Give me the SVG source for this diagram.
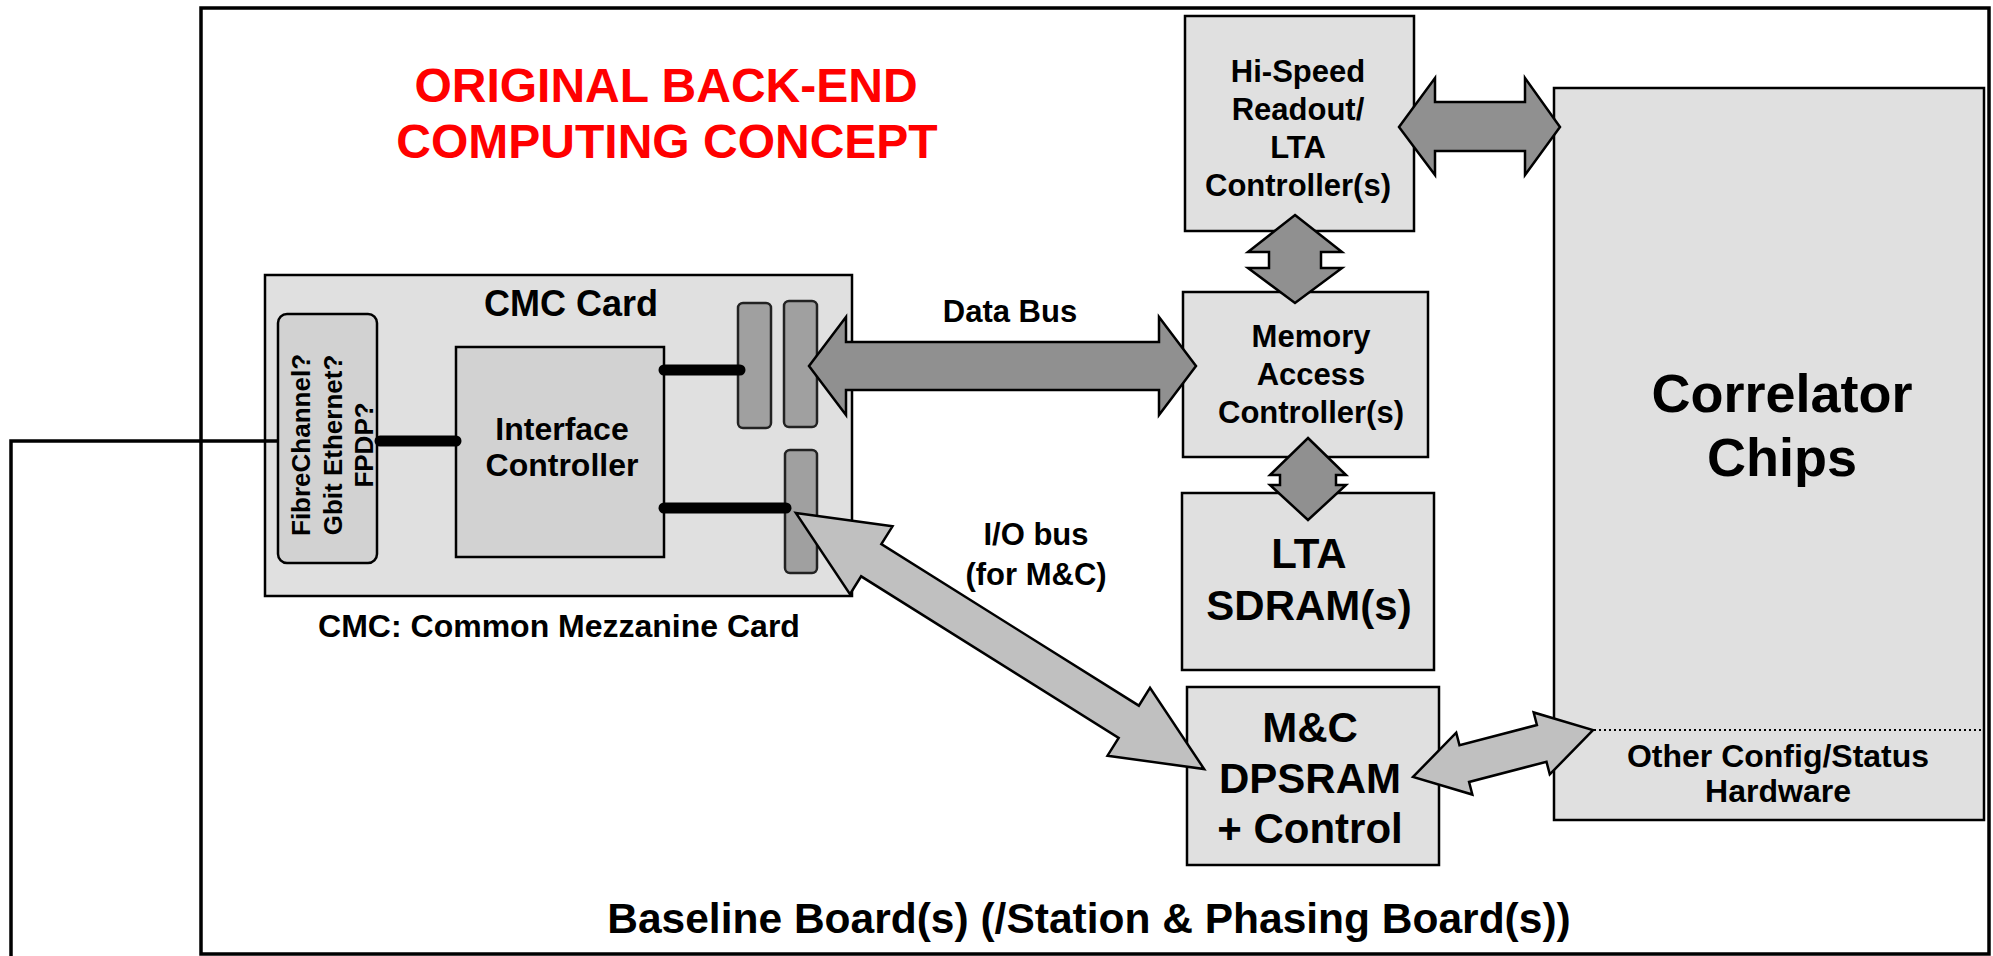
<svg xmlns="http://www.w3.org/2000/svg" width="1993" height="956" viewBox="0 0 1993 956">
<style>
.box{fill:#e0e0e0;stroke:#000;stroke-width:2.5}
.inner{fill:#d2d2d2;stroke:#000;stroke-width:2.5}
.slot{fill:#a0a0a0;stroke:#222;stroke-width:2.5}
.t{font-family:"Liberation Sans",Arial,sans-serif;font-weight:bold;fill:#000;text-anchor:middle}
.dark{fill:#909090;stroke:#000;stroke-width:2.5}
.light{fill:#c0c0c0;stroke:#000;stroke-width:2.5}
.wire{stroke:#000;stroke-width:11;stroke-linecap:round;fill:none}
.ext{stroke:#000;stroke-width:3.5;fill:none}
</style>
<rect width="1993" height="956" fill="#fff"/>

<g id="board">
  <rect x="201" y="8" width="1788" height="946" fill="none" stroke="#000" stroke-width="3.5"/>
  <text class="t" x="1089" y="933" font-size="42.5">Baseline Board(s) (/Station &amp; Phasing Board(s))</text>
</g>

<g id="title">
  <text class="t" x="666" y="102" font-size="48" fill="#ff0000" style="fill:#ff0000">ORIGINAL BACK-END</text>
  <text class="t" x="667" y="158" font-size="48" style="fill:#ff0000">COMPUTING CONCEPT</text>
</g>

<g id="cmc-card">
  <rect class="box" x="265" y="275" width="587" height="321"/>
  <text class="t" x="571" y="316" font-size="36">CMC Card</text>
  <text class="t" x="559" y="637" font-size="32">CMC: Common Mezzanine Card</text>
</g>

<g id="network-if">
  <rect class="inner" x="278" y="314" width="99" height="249" rx="9"/>
  <g class="t" font-size="26">
    <text transform="translate(310,445) rotate(-90)">FibreChannel?</text>
    <text transform="translate(342,445) rotate(-90)">Gbit Ethernet?</text>
    <text transform="translate(373,445) rotate(-90)">FPDP?</text>
  </g>
</g>

<g id="interface-controller">
  <rect class="inner" x="456" y="347" width="208" height="210"/>
  <text class="t" x="562" y="440" font-size="32">Interface</text>
  <text class="t" x="562" y="476" font-size="32">Controller</text>
</g>

<g id="slots">
  <rect class="slot" x="738" y="303" width="33" height="125" rx="5"/>
  <rect class="slot" x="784" y="301" width="33" height="126" rx="5"/>
  <rect class="slot" x="785" y="450" width="32" height="123" rx="5"/>
</g>

<g id="hispeed">
  <rect class="box" x="1185" y="16" width="229" height="215"/>
  <g class="t" font-size="31">
    <text x="1298" y="82">Hi-Speed</text>
    <text x="1298" y="120">Readout/</text>
    <text x="1298" y="158">LTA</text>
    <text x="1298" y="196">Controller(s)</text>
  </g>
</g>

<g id="memory">
  <rect class="box" x="1183" y="292" width="245" height="165"/>
  <g class="t" font-size="31">
    <text x="1311" y="347">Memory</text>
    <text x="1311" y="385">Access</text>
    <text x="1311" y="423">Controller(s)</text>
  </g>
</g>

<g id="lta-sdram">
  <rect class="box" x="1182" y="493" width="252" height="177"/>
  <g class="t" font-size="42">
    <text x="1309" y="568">LTA</text>
    <text x="1309" y="620">SDRAM(s)</text>
  </g>
</g>

<g id="mc-dpsram">
  <rect class="box" x="1187" y="687" width="252" height="178"/>
  <g class="t" font-size="42">
    <text x="1310" y="742">M&amp;C</text>
    <text x="1310" y="793">DPSRAM</text>
    <text x="1310" y="843">+ Control</text>
  </g>
</g>

<g id="correlator">
  <rect class="box" x="1554" y="88" width="430" height="732"/>
  <line x1="1554" y1="730" x2="1984" y2="730" stroke="#000" stroke-width="2" stroke-dasharray="2,3"/>
  <g class="t" font-size="54">
    <text x="1782" y="412">Correlator</text>
    <text x="1782" y="476">Chips</text>
  </g>
  <g class="t" font-size="32">
    <text x="1778" y="767">Other Config/Status</text>
    <text x="1778" y="802">Hardware</text>
  </g>
</g>

<g id="connectors">
  <polyline class="ext" points="11,956 11,441 278,441"/>
  <line class="wire" x1="380" y1="441" x2="456" y2="441"/>
  <line class="wire" x1="664" y1="370" x2="740" y2="370"/>
  <line class="wire" x1="664" y1="508" x2="786" y2="508"/>
  <polygon class="dark" points="809,366 846,317 846,342 1159,342 1159,317 1196,366 1159,415 1159,390 846,390 846,415"/>
  <polygon class="dark" points="1399,127 1435,78 1435,102 1525,102 1525,78 1560,127 1525,175 1525,151 1435,151 1435,175"/>
  <polygon class="dark" points="1295,215 1342,252 1321,252 1321,268 1342,268 1295,303 1248,268 1269,268 1269,252 1248,252"/>
  <polygon class="dark" points="1308,438 1346,475 1336,475 1336,485 1346,485 1308,520 1270,485 1280,485 1280,475 1270,475"/>
  <polygon class="light" transform="translate(1000,641) rotate(32.1)" points="-241,0 -152,-40 -152,-19 152,-19 152,-40 241,0 152,40 152,19 -152,19 -152,40"/>
  <polygon class="light" transform="translate(1503,753.5) rotate(-14.6)" points="-93,0 -40,-32 -40,-19 40,-19 40,-32 93,0 40,32 40,19 -40,19 -40,32"/>
  <text class="t" x="1010" y="322" font-size="31">Data Bus</text>
  <text class="t" x="1036" y="545" font-size="31">I/O bus</text>
  <text class="t" x="1036" y="585" font-size="31">(for M&amp;C)</text>
</g>
</svg>
